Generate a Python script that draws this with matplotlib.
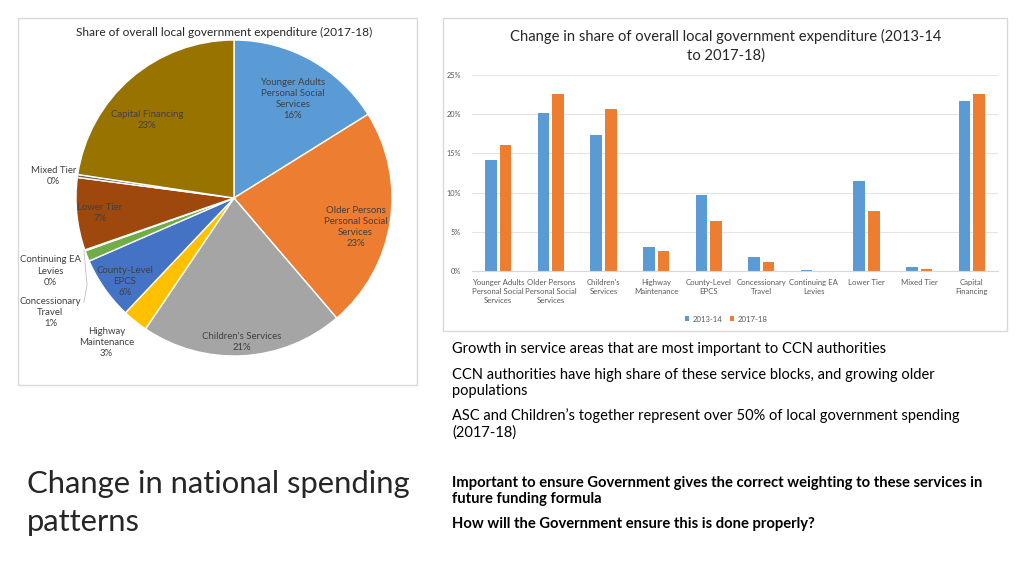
import numpy as np
import matplotlib
matplotlib.use("Agg")
import matplotlib.pyplot as plt
from matplotlib.patches import Rectangle

plt.rcParams['font.family'] = ['Lato', 'DejaVu Sans']

# data
categories = ["Younger Adults\nPersonal Social\nServices", "Older Persons\nPersonal Social\nServices",
              "Children's\nServices", "Highway\nMaintenance", "County-Level\nEPCS",
              "Concessionary\nTravel", "Continuing EA\nLevies", "Lower Tier", "Mixed Tier",
              "Capital\nFinancing"]
share_2013 = [14.2, 20.1, 17.3, 3.0, 9.7, 1.8, 0.08, 11.5, 0.5, 21.7]
share_2017 = [16.1, 22.6, 20.7, 2.6, 6.4, 1.1, 0.05, 7.6, 0.2, 22.6]

pie_names = ["Younger Adults\nPersonal Social\nServices", "Older Persons\nPersonal Social\nServices",
             "Children's Services", "Highway\nMaintenance", "County-Level\nEPCS",
             "Concessionary\nTravel", "Continuing EA\nLevies", "Lower Tier", "Mixed Tier",
             "Capital Financing"]
pie_values = [16.1, 22.6, 20.7, 2.6, 6.4, 1.1, 0.1, 7.4, 0.3, 22.6]
pie_colors = ["#5B9BD5", "#ED7D31", "#A5A5A5", "#FFC000", "#4472C4", "#70AD47",
              "#255E91", "#9E480E", "#636363", "#997300"]

W, H = 1024, 576
def fx(x):
    return x / W
def fy(y):
    return 1 - y / H

fig = plt.figure(figsize=(10.24, 5.76), dpi=100)
fig.patch.set_facecolor("white")

# boxes around the two charts
fig.patches.append(Rectangle((fx(18), fy(385)), fx(417) - fx(18), fy(18) - fy(385),
                             transform=fig.transFigure, fill=False, edgecolor="#D9D9D9", lw=1))
fig.patches.append(Rectangle((fx(443), fy(331)), fx(1007) - fx(443), fy(18) - fy(331),
                             transform=fig.transFigure, fill=False, edgecolor="#D9D9D9", lw=1))

# pie chart
cx, cy, r = 234, 198, 158
ax1 = fig.add_axes([fx(cx - r), fy(cy + r), (2 * r) / W, (2 * r) / H])
ax1.pie(pie_values, colors=pie_colors, startangle=90, counterclock=False,
        wedgeprops=dict(edgecolor="white", linewidth=1))
ax1.set_xlim(-1, 1)
ax1.set_ylim(-1, 1)
ax1.set_aspect("equal")
ax1.axis("off")

total = sum(pie_values)
# label positions (radius, angle in degrees)
label_pos = [(0.73, 59.3), (0.79, -13.3), (0.91, -86.8), (1.22, -131.4), (0.87, -142.7),
             (1.37, -148.0), (1.25, -158.3), (0.855, -173.6), (1.15, 173.0), (0.74, 138.0)]
for name, v, (rr, ang) in zip(pie_names, pie_values, label_pos):
    t = np.deg2rad(ang)
    ax1.text(rr * np.cos(t), rr * np.sin(t), f"{name}\n{round(v / total * 100)}%",
             ha="center", va="center", fontsize=6.9, color="#404040", linespacing=1.3)
# leader line for the tiny levies slice
ax1.plot([-0.95, -0.93, -0.95], [-0.33, -0.55, -0.66], color="#BFBFBF", lw=0.6, clip_on=False)

fig.text(fx(224), fy(32), "Share of overall local government expenditure (2017-18)",
         ha="center", va="center", fontsize=8.6, color="#262626")

# bar chart
ax2 = fig.add_axes([fx(472), fy(271), fx(998) - fx(472), fy(75) - fy(271)])
x = np.arange(len(categories))
ax2.bar(x - 0.14, share_2013, width=0.22, color="#5B9BD5", label="2013-14")
ax2.bar(x + 0.14, share_2017, width=0.22, color="#ED7D31", label="2017-18")
ax2.set_xlim(-0.5, len(categories) - 0.5)
ax2.set_ylim(0, 25)
ax2.set_yticks([0, 5, 10, 15, 20, 25])
ax2.set_yticklabels([f"{v}%" for v in [0, 5, 10, 15, 20, 25]])
ax2.yaxis.grid(True, color="#E4E4E4", lw=0.8)
ax2.set_axisbelow(True)
for s in ["top", "right", "left"]:
    ax2.spines[s].set_visible(False)
ax2.spines["bottom"].set_color("#D9D9D9")
ax2.set_xticks(x)
ax2.set_xticklabels(categories, fontsize=5.6, color="#595959", linespacing=1.3, va="top")
ax2.tick_params(axis="x", length=0, pad=6)
ax2.tick_params(axis="y", length=0, labelsize=5.3, labelcolor="#595959", pad=8)
ax2.legend(loc="center", bbox_to_anchor=(fx(726), fy(319)), bbox_transform=fig.transFigure,
           ncol=2, frameon=False, fontsize=5.6, handlelength=0.6, handleheight=0.6,
           handletextpad=0.4, columnspacing=1.0, labelcolor="#595959")

fig.text(fx(726), fy(46), "Change in share of overall local government expenditure (2013-14\nto 2017-18)",
         ha="center", va="center", fontsize=10.6, color="#262626", linespacing=1.4)

# slide text
body = [
    (349, "Growth in service areas that are most important to CCN authorities"),
    (383, "CCN authorities have high share of these service blocks, and growing older\npopulations"),
    (424, "ASC and Children\u2019s together represent over 50% of local government spending\n(2017-18)"),
]
for y, s in body:
    fig.text(fx(452), fy(y), s, ha="left", va="center", fontsize=10.5, color="#000000", linespacing=1.15)

bold = [
    (491, "Important to ensure Government gives the correct weighting to these services in\nfuture funding formula"),
    (524, "How will the Government ensure this is done properly?"),
]
for y, s in bold:
    fig.text(fx(452), fy(y), s, ha="left", va="center", fontsize=10.6, fontweight="bold",
             color="#000000", linespacing=1.1)

fig.text(fx(27), fy(503), "Change in national spending\npatterns", ha="left", va="center",
         fontsize=22.3, color="#262626", linespacing=1.4)

plt.savefig("out.png", dpi=100)
